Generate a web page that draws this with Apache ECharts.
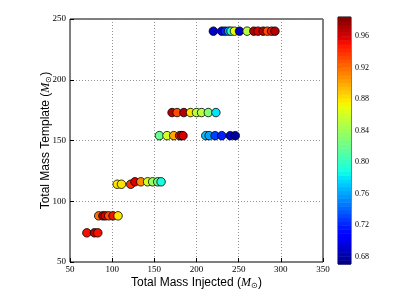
<!DOCTYPE html>
<html><head><meta charset="utf-8">
<script src="https://cdn.jsdelivr.net/npm/echarts@6/dist/echarts.min.js"></script>
<style>html,body{margin:0;padding:0;background:#fff}#c{width:407px;height:305px}</style>
</head><body><div id="c"></div>
<script>
// Data
const injectedMass = [
  220, 230, 234, 238, 241, 245, 251, 260, 268, 273, 279, 284, 289, 293,
  171, 177, 185, 193, 200, 206, 214, 223,
  156, 165, 173, 180, 182, 184,
  211, 215, 222, 230, 240, 246,
  106, 111, 122,
  127, 134, 142, 148, 154, 158,
  84, 89, 92, 96, 101, 107,
  70, 79, 83
];
const templateMass = [
  240, 240, 240, 240, 240, 240, 240, 240, 240, 240, 240, 240, 240, 240,
  173, 173, 173, 173, 173, 173, 173, 173,
  154, 154, 154, 154, 154, 154,
  154, 154, 154, 154, 154, 154,
  114, 114, 114,
  116, 116, 116, 116, 116, 116,
  88, 88, 88, 88, 88, 88,
  74, 74, 74
];
const matchValue = [
  0.69, 0.70, 0.72, 0.76, 0.80, 0.87, 0.69, 0.85, 0.97, 0.96, 0.97, 0.93, 0.95, 0.97,
  0.97, 0.93, 0.97, 0.88, 0.85, 0.85, 0.83, 0.78,
  0.82, 0.86, 0.90, 0.94, 0.95, 0.96,
  0.77, 0.76, 0.73, 0.72, 0.69, 0.68,
  0.88, 0.88, 0.94,
  0.96, 0.91, 0.86, 0.84, 0.82, 0.79,
  0.92, 0.97, 0.96, 0.93, 0.95, 0.88,
  0.95, 0.97, 0.95
];
const xTicks = [50, 100, 150, 200, 250, 300, 350];
const yTicks = [50, 100, 150, 200, 250];
const colorTicks = [0.68, 0.72, 0.76, 0.80, 0.84, 0.88, 0.92, 0.96];
const colorMin = 0.671, colorMax = 0.984;

function interp(pts, t) {
  for (let i = 1; i < pts.length; i++) {
    if (t <= pts[i][0]) {
      const a = pts[i-1], b = pts[i];
      return a[1] + (b[1]-a[1]) * (t-a[0]) / (b[0]-a[0]);
    }
  }
  return pts[pts.length-1][1];
}
function jet(t) {
  const r = interp([[0,0],[0.35,0],[0.66,1],[0.89,1],[1,0.5]], t);
  const g = interp([[0,0],[0.125,0],[0.375,1],[0.64,1],[0.91,0],[1,0]], t);
  const b = interp([[0,0.5],[0.11,1],[0.34,1],[0.65,0],[1,0]], t);
  const h = v => Math.round(v*255).toString(16).padStart(2,'0');
  return '#' + h(r) + h(g) + h(b);
}
const jetStops = [];
for (let i = 0; i <= 40; i++) jetStops.push(jet(i/40));
const nBands = 64;
const bands = [];
for (let i = 0; i < nBands; i++) {
  const lo = colorMin + (colorMax-colorMin)*i/nBands;
  const hi = colorMin + (colorMax-colorMin)*(i+1)/nBands;
  bands.push([lo, hi, (i+0.5)/nBands]);
}
const points = injectedMass.map((x, i) => [x, templateMass[i], matchValue[i]]);

const serif = 'Liberation Serif';
const sans = 'Liberation Sans';
const rich = {
  i: {fontFamily: serif, fontStyle: 'italic', fontSize: 12, color: '#000'},
  s: {fontFamily: serif, fontSize: 8, color: '#000', padding: [6, 0, 0, 0]}
};
const chart = echarts.init(document.getElementById('c'), null, {renderer: 'canvas'});
chart.setOption({
  animation: false,
  backgroundColor: '#fff',
  grid: [
    {left: 70, right: 84, top: 19, bottom: 43, show: true, borderColor: '#000', borderWidth: 1, backgroundColor: 'transparent'},
    {left: 338, top: 17, width: 13, height: 247, show: true, borderColor: '#000', borderWidth: 1}
  ],
  visualMap: [{
    show: false, seriesIndex: 0, dimension: 2, min: colorMin, max: colorMax,
    inRange: {color: jetStops}
  }],
  xAxis: [{
    type: 'value', min: 50, max: 350, interval: 50, gridIndex: 0,
    name: 'Total Mass Injected ({i|M}{s|⊙})', nameLocation: 'middle', nameGap: 14, nameMoveOverlap: false,
    nameTextStyle: {fontFamily: sans, fontSize: 12, color: '#000', rich: rich, verticalAlign: 'top'},
    axisLine: {show: false},
    axisTick: {show: true, inside: true, length: 4, lineStyle: {color: '#000'}},
    axisLabel: {fontFamily: serif, fontSize: 9, color: '#000', margin: 3},
    splitLine: {show: true, lineStyle: {type: [1, 2], color: '#777', width: 0.8}}
  }, {
    type: 'value', min: 0, max: 1, gridIndex: 1, show: false
  }],
  yAxis: [{
    type: 'value', min: 50, max: 250, interval: 50, gridIndex: 0,
    name: 'Total Mass Template ({i|M}{s|⊙})', nameLocation: 'middle', nameGap: 17, nameMoveOverlap: false,
    nameTextStyle: {fontFamily: sans, fontSize: 12, color: '#000', rich: rich},
    axisLine: {show: false},
    axisTick: {show: true, inside: true, length: 4, lineStyle: {color: '#000'}},
    axisLabel: {fontFamily: serif, fontSize: 9, color: '#000', margin: 4},
    splitLine: {show: true, lineStyle: {type: [1, 2], color: '#777', width: 0.8}}
  }, {
    type: 'value', min: colorMin, max: colorMax, gridIndex: 1, position: 'right',
    axisLine: {show: false},
    axisTick: {show: true, length: 3, customValues: colorTicks, lineStyle: {color: '#000'}},
    axisLabel: {show: true, customValues: colorTicks, fontFamily: serif, fontSize: 8, color: '#000', margin: 4,
      formatter: v => v.toFixed(2)},
    splitLine: {show: false}
  }],
  series: [{
    type: 'scatter', xAxisIndex: 0, yAxisIndex: 0, data: points,
    symbol: 'circle', symbolSize: 8.5,
    itemStyle: {borderColor: '#000', borderWidth: 0.8, opacity: 1}
  }, {
    type: 'custom', xAxisIndex: 1, yAxisIndex: 1, data: bands, silent: true,
    renderItem: function (params, api) {
      const p1 = api.coord([0, api.value(0)]);
      const p2 = api.coord([1, api.value(1)]);
      return {type: 'rect', shape: {x: p1[0], y: p2[1], width: p2[0]-p1[0], height: p1[1]-p2[1] + 0.5},
        style: {fill: jet(api.value(2))}};
    }
  }]
});
</script></body></html>
